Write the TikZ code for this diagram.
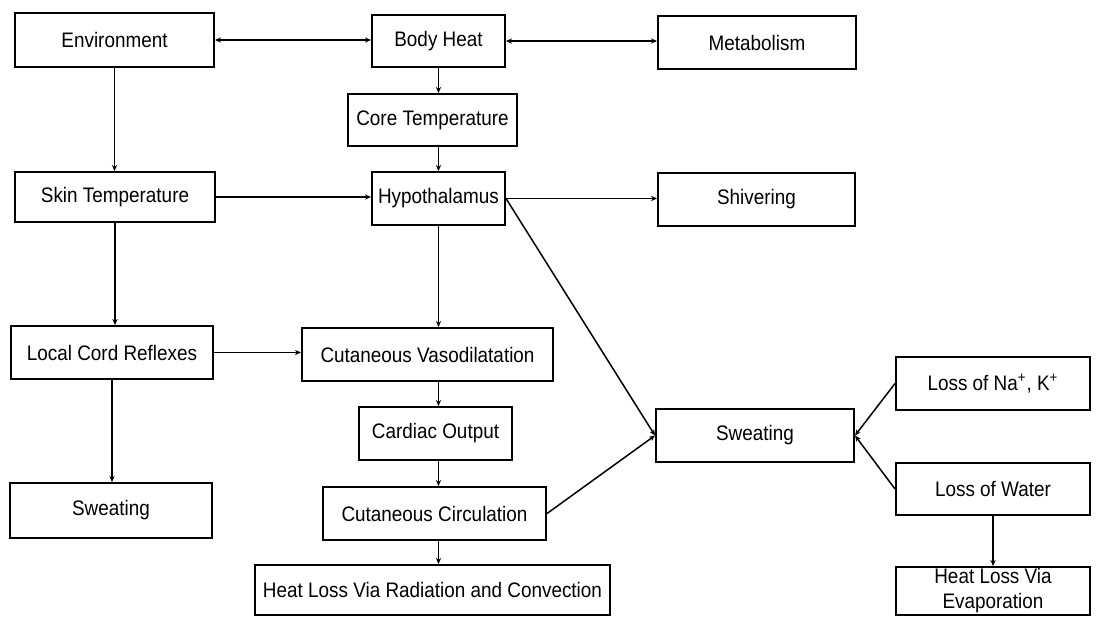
\documentclass[tikz,border=0pt]{standalone}
\usepackage{fontspec}
\setmainfont{Liberation Sans}[FakeStretch=0.9]
\usetikzlibrary{arrows.meta}
\tikzset{
  box/.style 2 args={draw, line width=1pt, inner sep=0pt, align=center,
    minimum width=#1*0.5pt, minimum height=#2*0.5pt, font=\fontsize{10.5}{12.5}\selectfont},
  conn/.style={line width=0.75pt, -{Stealth[length=3pt,width=2.6pt]}},
  both/.style={line width=0.75pt, {Stealth[length=3pt,width=2.6pt]}-{Stealth[length=3pt,width=2.6pt]}}
}
\begin{document}
\begin{tikzpicture}[x=0.5pt,y=-0.5pt]
\useasboundingbox (0,0) rectangle (1097,617);
\fill[white] (0,0) rectangle (1097,617);
\node[box={199}{54}] (env) at (114.5,40) {Environment};
\node[box={133}{52}] (bh) at (438.5,41) {Body Heat};
\node[box={198}{53}] (met) at (757,42.5) {Metabolism};
\node[box={169}{52}] (core) at (432.5,120) {Core Temperature};
\node[box={200}{50}] (skin) at (115,197) {Skin Temperature};
\node[box={133}{53}] (hypo) at (438.5,198.5) {Hypothalamus};
\node[box={197}{53}] (shiv) at (756.5,199.5) {Shivering};
\node[box={202}{53}] (lcr) at (112,352.5) {Local Cord Reflexes};
\node[box={251}{53}] (cv) at (427.5,354.5) {Cutaneous Vasodilatation};
\node[box={153}{53}] (co) at (435.5,433.5) {Cardiac Output};
\node[box={223}{53}] (cc) at (434.5,513.5) {Cutaneous Circulation};
\node[box={202}{55}] (swl) at (111,510.5) {Sweating};
\node[box={355}{50}] (hlr) at (432.5,590) {Heat Loss Via Radiation and Convection};
\node[box={198}{53}] (swr) at (755,435.5) {Sweating};
\node[box={194}{53}] (na) at (993,383.5) {Loss of Na\textsuperscript{+}, K\textsuperscript{+}};
\node[box={194}{52}] (water) at (993,489) {Loss of Water};
\node[box={194}{48}] (hle) at (993,591) {Heat Loss Via\\Evaporation};

\draw[both] (env.east) -- (env.east -| bh.west);
\draw[both] (bh.east) -- (bh.east -| met.west);
\draw[conn] (env.south) -- (env.south |- skin.north);
\draw[conn] (bh.south) -- (bh.south |- core.north);
\draw[conn] (core.south -| bh.south) -- (hypo.north);
\draw[conn] (skin.east) -- (skin.east -| hypo.west);
\draw[conn] (hypo.east) -- (hypo.east -| shiv.west);
\draw[conn] (hypo.east) -- (swr.west);
\draw[conn] (skin.south) -- (skin.south |- lcr.north);
\draw[conn] (hypo.south) -- (hypo.south |- cv.north);
\draw[conn] (lcr.east) -- (lcr.east -| cv.west);
\draw[conn] (lcr.south) -- (lcr.south |- swl.north);
\draw[conn] (cv.south -| hypo.south) -- (co.north -| hypo.south);
\draw[conn] (co.south -| hypo.south) -- (cc.north -| hypo.south);
\draw[conn] (cc.south -| hypo.south) -- (hlr.north -| hypo.south);
\draw[conn] (cc.east) -- (swr.west);
\draw[conn] (na.west) -- (swr.east);
\draw[conn] (water.west) -- (swr.east);
\draw[conn] (water.south) -- (hle.north);
\end{tikzpicture}
\end{document}
